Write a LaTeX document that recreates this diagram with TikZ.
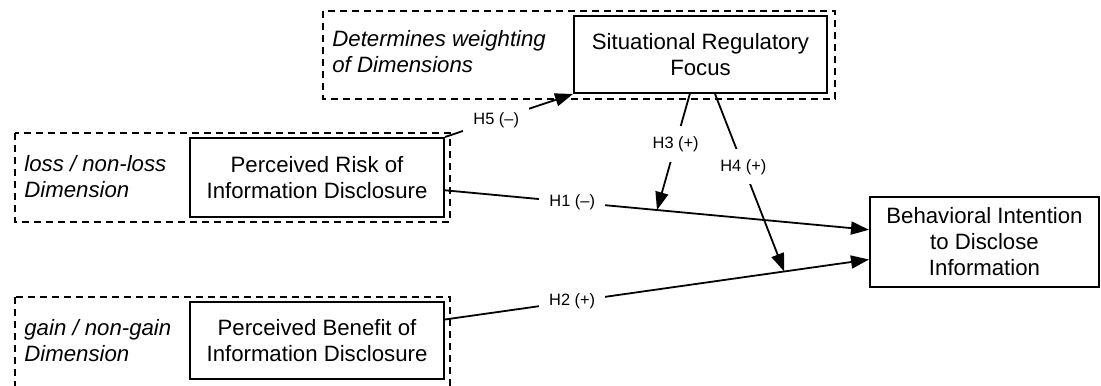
\documentclass[tikz,border=0pt]{standalone}
\usepackage{fontspec}
\setmainfont{Liberation Sans}
\usetikzlibrary{arrows.meta,calc}
\newcommand\mainfs{\fontsize{11.1}{13}\selectfont}
\newcommand\labfs{\fontsize{8.2}{10}\selectfont}
\begin{document}
\begin{tikzpicture}[x=0.5pt,y=-0.5pt,
  box/.style={draw,line width=1pt,align=center,font=\mainfs,inner sep=0pt},
  dbox/.style={draw,line width=0.75pt,dash pattern=on 3.5pt off 2.5pt},
  note/.style={align=left,anchor=west,inner sep=0pt,font=\mainfs\itshape},
  conn/.style={line width=0.9pt,-{Triangle[length=9pt,width=6.5pt]}},
  hlab/.style={fill=white,inner sep=5pt,font=\labfs}]
\useasboundingbox (0,0) rectangle (1101,385);
\clip (0,0) rectangle (1101,385);
% dashed groups
\draw[dbox] (323,11) rectangle (835,99);
\draw[dbox] (15,133) rectangle (450,222);
\draw[dbox] (15,297) rectangle (450,400);
% notes
\node[note] (n1) at (332,52) {Determines weighting\\of Dimensions};
\node[note] (n2) at (24,177) {loss / non-loss\\Dimension};
\node[note] (n3) at (24,341) {gain / non-gain\\Dimension};
% boxes
\node[box,minimum width=126.5pt,minimum height=38.5pt] (srf) at (700.5,54.5) {Situational Regulatory\\Focus};
\node[box,minimum width=127pt,minimum height=39.5pt] (risk) at (317,177.5) {Perceived Risk of\\Information Disclosure};
\node[box,minimum width=127pt,minimum height=38.5pt] (ben) at (317,340.5) {Perceived Benefit of\\Information Disclosure};
\node[box,minimum width=114.5pt,minimum height=45pt] (bi) at (984.5,242) {Behavioral Intention\\to Disclose\\Information};
% connector points
\coordinate (h1s) at ($(risk.north east)!0.658!(risk.south east)$);
\coordinate (h1e) at ($(bi.north west)!0.367!(bi.south west)$);
\coordinate (h2s) at ($(ben.north east)!0.234!(ben.south east)$);
\coordinate (h2e) at ($(bi.north west)!0.69!(bi.south west)$);
\coordinate (h3s) at ($(srf.south west)!0.458!(srf.south east)$);
\coordinate (h4s) at ($(srf.south west)!0.557!(srf.south east)$);
\coordinate (h3e) at ($(h1s)!0.5!(h1e)$);
\coordinate (h4e) at ($(h2s)!0.8!(h2e)$);
% connectors
\draw[conn] (h1s) -- node[hlab,pos=0.3] (l1) {H1 (–)} (h1e);
\draw[conn] (h2s) -- node[hlab,pos=0.3] (l2) {H2 (+)} (h2e);
\draw[conn] (h3s) -- node[hlab,pos=0.43] (l3) {H3 (+)} (h3e);
\draw[conn] (h4s) -- node[hlab,pos=0.41] (l4) {H4 (+)} (h4e);
\draw[conn] (risk.north east) -- node[hlab,pos=0.4] (l5) {H5 (–)} (srf.south west);
\end{tikzpicture}
\end{document}
